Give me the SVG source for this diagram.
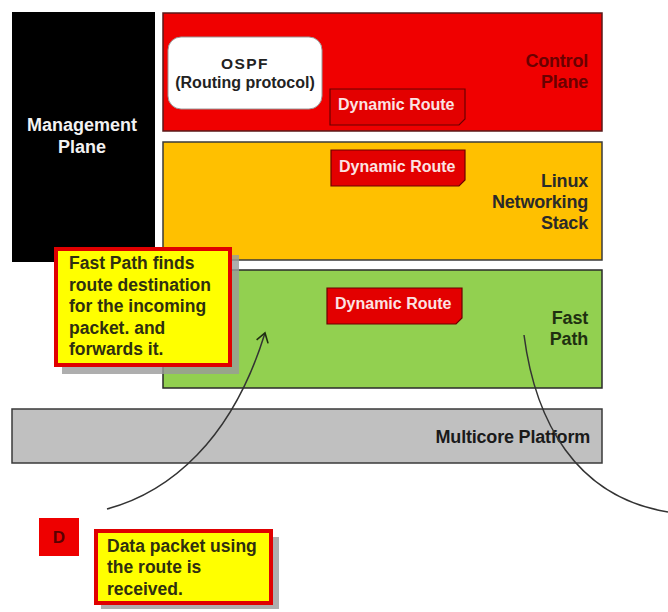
<svg xmlns="http://www.w3.org/2000/svg" width="668" height="612" viewBox="0 0 668 612">
<style>
text{font-family:"Liberation Sans",Arial,sans-serif;font-weight:bold}
.lbl{font-size:18px;text-anchor:end;letter-spacing:-0.2px}
.dr{fill:#e30000;stroke:#6a0000;stroke-width:1.2}
.drt{font-size:16px;fill:#fbe3e3}
.call{fill:#ffff00;stroke:#e00000;stroke-width:4}
.shadow{fill:#9a9a9a;opacity:.8}
.ct{font-size:17.5px;fill:#2f2f10}
.conn{fill:none;stroke:#333;stroke-width:1.5}
</style>
<defs>
<marker id="ah" markerWidth="14" markerHeight="14" refX="10" refY="7" orient="auto" markerUnits="userSpaceOnUse">
<path d="M1,1 L10,7 L1,13" fill="none" stroke="#1f2f10" stroke-width="1.6"/>
</marker>
</defs>
<rect width="668" height="612" fill="#ffffff"/>
<g id="management-plane">
<rect x="12" y="12" width="143" height="250" fill="#000"/>
<text x="82" y="131" text-anchor="middle" font-size="18" fill="#f2f2f2">Management</text>
<text x="82" y="153" text-anchor="middle" font-size="18" fill="#f2f2f2">Plane</text>
</g>
<g id="control-plane">
<rect x="163" y="13" width="439" height="118" fill="#f00000" stroke="#5a1a1a" stroke-width="1.5"/>
<text class="lbl" x="588" y="67" fill="#6a0000">Control</text>
<text class="lbl" x="588" y="88" fill="#6a0000">Plane</text>
</g>
<g id="ospf">
<rect x="168" y="37" width="154" height="72" rx="13" fill="#fff" stroke="#999" stroke-width="1"/>
<text x="245" y="69" text-anchor="middle" font-size="15.5" fill="#222" letter-spacing="1.5">OSPF</text>
<text x="245" y="88" text-anchor="middle" font-size="16" fill="#222">(Routing protocol)</text>
</g>
<g id="dynamic-route-control">
<path class="dr" d="M330,89 H465 V119 L459,125 H330 Z"/>
<text class="drt" x="338" y="110">Dynamic Route</text>
</g>
<g id="linux-networking-stack">
<rect x="163" y="142" width="439" height="118" fill="#ffc000" stroke="#3a3a3a" stroke-width="1.5"/>
<text class="lbl" x="588" y="187" fill="#2a2a2a">Linux</text>
<text class="lbl" x="588" y="208" fill="#2a2a2a">Networking</text>
<text class="lbl" x="588" y="229" fill="#2a2a2a">Stack</text>
</g>
<g id="dynamic-route-linux">
<path class="dr" d="M331,150 H465 V180 L459,186 H331 Z"/>
<text class="drt" x="339" y="172">Dynamic Route</text>
</g>
<g id="fast-path">
<rect x="163" y="270" width="439" height="118" fill="#92d050" stroke="#2a2a2a" stroke-width="1.5"/>
<text class="lbl" x="588" y="324" fill="#1f3010">Fast</text>
<text class="lbl" x="588" y="345" fill="#1f3010">Path</text>
</g>
<g id="dynamic-route-fast">
<path class="dr" d="M327,288 H462 V318 L456,324 H327 Z"/>
<text class="drt" x="335" y="309">Dynamic Route</text>
</g>
<g id="multicore-platform">
<rect x="12" y="409" width="590" height="54" fill="#c0c0c0" stroke="#3a3a3a" stroke-width="1.5"/>
<text class="lbl" x="590" y="443" fill="#1a1a1a">Multicore Platform</text>
</g>
<g id="callout-fast-path">
<rect class="shadow" x="62" y="255" width="177" height="119"/>
<rect class="call" x="56" y="249" width="174" height="116"/>
<text class="ct" x="69" y="269">Fast Path finds</text>
<text class="ct" x="69" y="290.5">route destination</text>
<text class="ct" x="69" y="312">for the incoming</text>
<text class="ct" x="69" y="333.5">packet. and</text>
<text class="ct" x="69" y="355">forwards it.</text>
</g>
<g id="d-box">
<rect x="39" y="518" width="40" height="38" fill="#ee0000"/>
<text x="59" y="543" text-anchor="middle" font-size="17" fill="#5a0000">D</text>
</g>
<g id="callout-data-packet">
<rect class="shadow" x="101" y="537" width="178" height="72"/>
<rect class="call" x="96" y="531" width="175" height="72"/>
<text class="ct" x="107" y="552">Data packet using</text>
<text class="ct" x="107" y="573">the route is</text>
<text class="ct" x="107" y="595">received.</text>
</g>
<g id="connectors">
<path class="conn" d="M107,509 C170,492 232,440 265,333" marker-end="url(#ah)"/>
<path class="conn" d="M524,335 C535,420 575,497 668,512"/>
</g>
</svg>
